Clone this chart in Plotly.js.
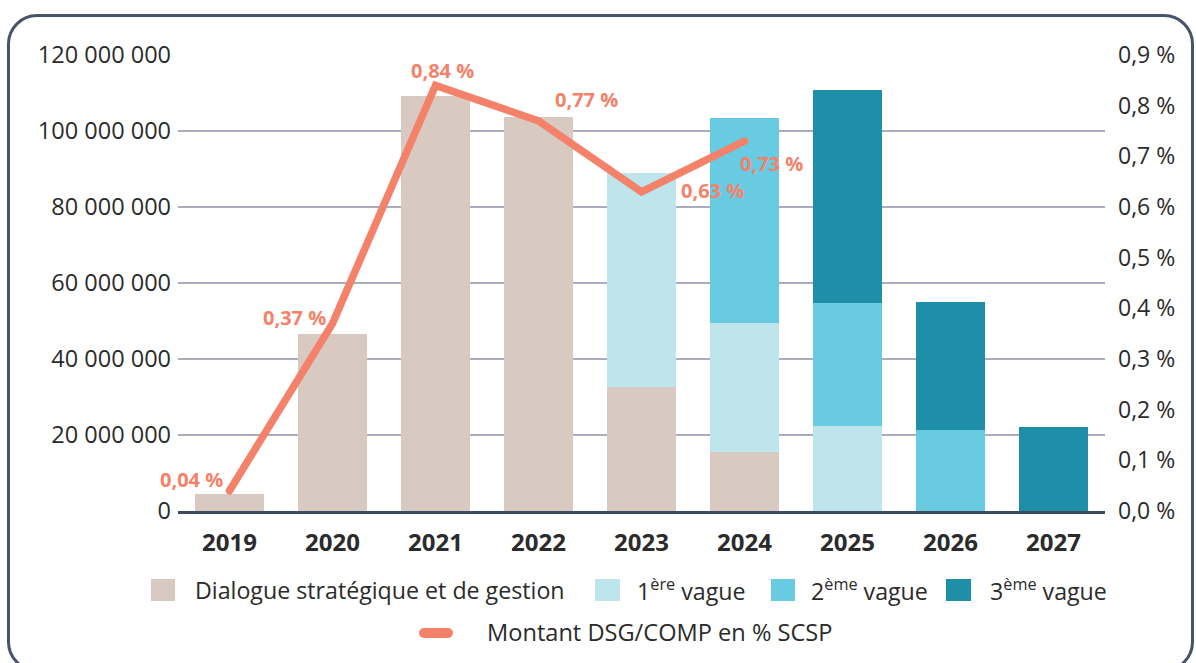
<!DOCTYPE html>
<html>
<head>
<meta charset="utf-8">
<script src="https://cdn.plot.ly/plotly-3.0.1.min.js"></script>
<style>
  html, body { margin: 0; padding: 0; background: #ffffff; overflow: hidden; }
  #wrap { position: relative; width: 1196px; height: 663px; }
  #chart { position: absolute; left: 0; top: 0; width: 1196px; height: 663px; }
  #frame { position: absolute; left: 7px; top: 14px; width: 1187px; height: 658px;
           border: 3px solid #46536b; border-radius: 30px; pointer-events: none; box-sizing: border-box; }
  #chart .scatterlayer .js-line { stroke-linecap: round; }
</style>
</head>
<body>
<div id="wrap">
  <div id="chart"></div>
  <div id="frame"></div>
</div>
<script>
// ---- data ----
const years = ['2019', '2020', '2021', '2022', '2023', '2024', '2025', '2026', '2027'];
const dsg    = [4.5e6, 46.6e6, 109.3e6, 103.7e6, 32.6e6, 15.5e6, null, null, null];
const vague1 = [null, null, null, null, 56.3e6, 34.0e6, 22.4e6, null, null];
const vague2 = [null, null, null, null, null, 53.9e6, 32.3e6, 21.3e6, null];
const vague3 = [null, null, null, null, null, null, 56.1e6, 33.7e6, 22.1e6];
const pct    = [0.04, 0.37, 0.84, 0.77, 0.63, 0.73, null, null, null];
const pctLabels = ['0,04 %', '0,37 %', '0,84 %', '0,77 %', '0,63 %', '0,73 %'];
const seriesNames = ['Dialogue stratégique et de gestion', '1<sup>ère</sup> vague', '2<sup>ème</sup> vague', '3<sup>ème</sup> vague'];
const lineName = 'Montant DSG/COMP en % SCSP';

// ---- styles ----
const colors = ['#d8cac1', '#bee4ec', '#69cbe2', '#1f8ea9'];
const lineColor = '#f4826a';
const textColor = '#2b2b2b';
const FONT = '"Open Sans", "Noto Sans", sans-serif';

// pixel helpers for plot area (l=178, r=1105, t=55, b=511)
const PL = 178, PR = 1105, PT = 55, PB = 511;
const px = v => (v - PL) / (PR - PL);
const py = v => (PB - v) / (PB - PT);

const barSeries = [dsg, vague1, vague2, vague3];
const traces = barSeries.map((vals, i) => ({
  type: 'bar', x: years, y: vals, name: seriesNames[i],
  marker: { color: colors[i], line: { width: 0 } },
  showlegend: false, hoverinfo: 'x+y'
}));
traces.push({
  type: 'scatter', mode: 'lines', x: years, y: pct, yaxis: 'y2', name: lineName,
  line: { color: lineColor, width: 7.5 }, showlegend: false, cliponaxis: false
});

// data labels on the line (positioned via axis scales + offsets)
const offsets = [[-38, 11], [-38, 6], [7, 15], [48, 21], [71, 1], [27, -22]];
const annotations = pctLabels.map((t, i) => ({
  x: i, y: pct[i], xref: 'x', yref: 'y2', text: t, showarrow: false,
  xanchor: 'center', yanchor: 'middle',
  xshift: offsets[i][0], yshift: offsets[i][1],
  font: { family: FONT, size: 20, color: lineColor, weight: 700 }
}));

// custom legend
const shapes = [];
const legSquares = [[151, 175], [595, 620], [771, 795], [946, 971]];
const legTextX = [193, 635, 809, 988];
legSquares.forEach((s, i) => {
  shapes.push({ type: 'rect', xref: 'paper', yref: 'paper',
    x0: px(s[0]), x1: px(s[1]), y0: py(601), y1: py(579),
    fillcolor: colors[i], line: { width: 0 } });
  annotations.push({ xref: 'paper', yref: 'paper', x: px(legTextX[i]), y: py(590),
    xanchor: 'left', yanchor: 'middle', text: seriesNames[i], showarrow: false,
    font: { family: FONT, size: 23.2, color: textColor } });
});
shapes.push({ type: 'line', xref: 'paper', yref: 'paper',
  x0: px(424), x1: px(448), y0: py(633), y1: py(633),
  line: { color: lineColor, width: 10 } });
shapes.push({ type: 'circle', xref: 'paper', yref: 'paper',
  x0: px(419), x1: px(429), y0: py(638), y1: py(628), fillcolor: lineColor, line: { width: 0 } });
shapes.push({ type: 'circle', xref: 'paper', yref: 'paper',
  x0: px(443), x1: px(453), y0: py(638), y1: py(628), fillcolor: lineColor, line: { width: 0 } });
annotations.push({ xref: 'paper', yref: 'paper', x: px(485), y: py(632),
  xanchor: 'left', yanchor: 'middle', text: lineName, showarrow: false,
  font: { family: FONT, size: 23.6, color: textColor } });

const layout = {
  width: 1196, height: 663,
  margin: { l: PL, r: 1196 - PR, t: PT, b: 663 - PB, pad: 0 },
  paper_bgcolor: 'rgba(0,0,0,0)', plot_bgcolor: 'rgba(0,0,0,0)',
  barmode: 'stack', bargap: 0.33,
  separators: ', ',
  font: { family: FONT, color: textColor, size: 22 },
  showlegend: false,
  xaxis: {
    type: 'category', range: [-0.5, 8.5], showgrid: false,
    showline: true, linecolor: '#3d4a63', linewidth: 2.5,
    ticks: '', tickfont: { family: FONT, size: 24, color: textColor, weight: 'bold' },
    ticklabelstandoff: 9
  },
  yaxis: {
    range: [0, 120e6], dtick: 20e6, tickformat: ',.0f',
    showgrid: true, gridcolor: '#a9adbd', gridwidth: 1.2,
    zeroline: false, showline: false, ticks: '',
    tickfont: { family: FONT, size: 23.5, color: textColor },
    ticklabelstandoff: 6
  },
  yaxis2: {
    overlaying: 'y', side: 'right', range: [0, 0.9], dtick: 0.1,
    tickformat: '.1f', ticksuffix: ' %', showgrid: false, zeroline: false,
    showline: false, ticks: '',
    tickfont: { family: FONT, size: 23, color: textColor },
    ticklabelstandoff: 12
  },
  shapes: shapes,
  annotations: annotations
};

Plotly.newPlot('chart', traces, layout, { staticPlot: true, displayModeBar: false });
</script>
</body>
</html>
